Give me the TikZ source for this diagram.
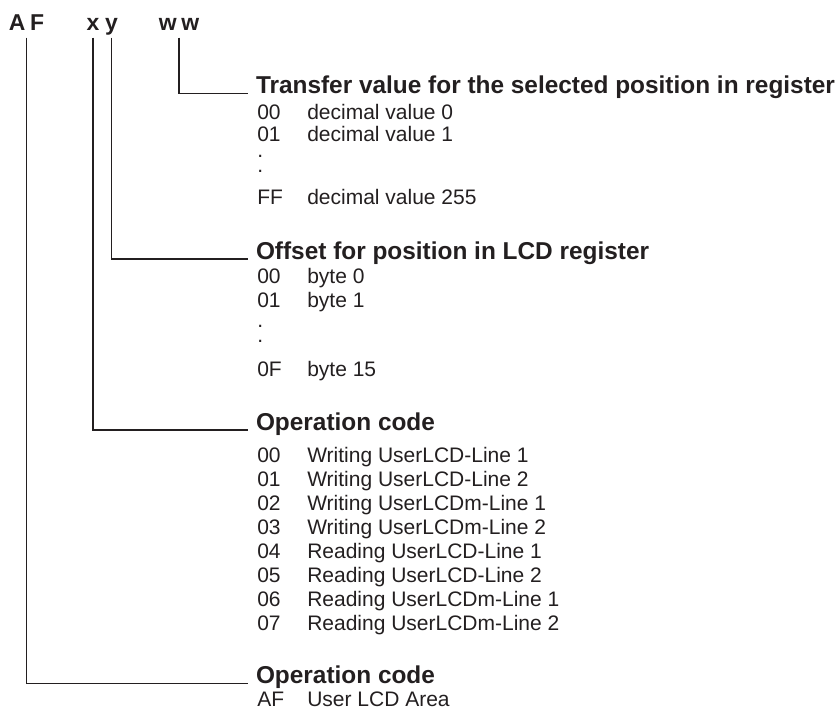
\documentclass[tikz,border=0pt]{standalone}
\usepackage{fontspec}
\setmainfont{Liberation Sans}
\usepackage{xcolor}
\definecolor{ink}{RGB}{35,31,32}

\begin{document}
\begin{tikzpicture}[x=0.75pt,y=-0.75pt,
  every node/.style={text=ink},
  cmdchar/.style={font=\bfseries\fontsize{17.2}{18}\selectfont,inner sep=0pt,anchor=base},
  head/.style={font=\bfseries\fontsize{18.3}{20}\selectfont,anchor=base west,
               inner xsep=6pt,inner ysep=0pt,outer sep=0pt},
  item/.style={font=\fontsize{15.75}{18}\selectfont,anchor=base west,inner sep=0pt},
  link/.style={line width=0.9pt,ink}]
  \useasboundingbox (0,0) rectangle (838,709);

  % ===== command bytes =====
  \node[cmdchar] (AF) at (26.5,30.7) {A\kern3.5pt F};
  \node[cmdchar] (cx) at (93,30.7) {x};
  \node[cmdchar] (cy) at (111.6,30.7) {y};
  \node[cmdchar] (ww) at (179,30.7) {w\kern3.5pt w};

  % ===== headings =====
  \node[head] (hdT) at (248,93.3) {Transfer value for the selected position in register};
  \node[head] (hdO) at (248,259) {Offset for position in LCD register};
  \node[head] (hdC) at (248,430) {Operation code};
  \node[head] (hdA) at (248,683.3) {Operation code};

  % ===== links =====
  \draw[link] (ww.base) ++(0,7) |- (hdT.base west);
  \draw[link] (cy.base) ++(0,7) |- (hdO.base west);
  \draw[link] (cx.base) ++(0,7) |- (hdC.base west);
  \draw[link] (AF.base) ++(0,7) |- (hdA.base west);

  % ===== transfer value =====
  \node[item] (tv00) at (257,119.3) {00}; \node[item] (tv00d) at (307,119.3) {decimal value 0};
  \node[item] (tv01) at (257,141.7) {01}; \node[item] (tv01d) at (307,141.7) {decimal value 1};
  \node[item] (tvdA) at (257,158) {.};
  \node[item] (tvdB) at (257,173) {.};
  \node[item] (tvFF) at (257,205) {FF}; \node[item] (tvFFd) at (307,205) {decimal value 255};

  % ===== offset =====
  \node[item] (of00) at (257,283) {00}; \node[item] (of00d) at (307,283) {byte 0};
  \node[item] (of01) at (257,307) {01}; \node[item] (of01d) at (307,307) {byte 1};
  \node[item] (ofdA) at (257,327) {.};
  \node[item] (ofdB) at (257,342) {.};
  \node[item] (of0F) at (257,376) {0F}; \node[item] (of0Fd) at (307,376) {byte 15};

  % ===== operation code =====
  \node[item] (op00) at (257,462.7) {00}; \node[item] (op00d) at (307,462.7) {Writing UserLCD-Line 1};
  \node[item] (op01) at (257,486.7) {01}; \node[item] (op01d) at (307,486.7) {Writing UserLCD-Line 2};
  \node[item] (op02) at (257,510.7) {02}; \node[item] (op02d) at (307,510.7) {Writing UserLCDm-Line 1};
  \node[item] (op03) at (257,534.7) {03}; \node[item] (op03d) at (307,534.7) {Writing UserLCDm-Line 2};
  \node[item] (op04) at (257,558.7) {04}; \node[item] (op04d) at (307,558.7) {Reading UserLCD-Line 1};
  \node[item] (op05) at (257,582.7) {05}; \node[item] (op05d) at (307,582.7) {Reading UserLCD-Line 2};
  \node[item] (op06) at (257,606.7) {06}; \node[item] (op06d) at (307,606.7) {Reading UserLCDm-Line 1};
  \node[item] (op07) at (257,630.7) {07}; \node[item] (op07d) at (307,630.7) {Reading UserLCDm-Line 2};

  % ===== area =====
  \node[item] (arAF) at (257,706.3) {AF}; \node[item] (arAFd) at (307,706.3) {User LCD Area};

\end{tikzpicture}
\end{document}
